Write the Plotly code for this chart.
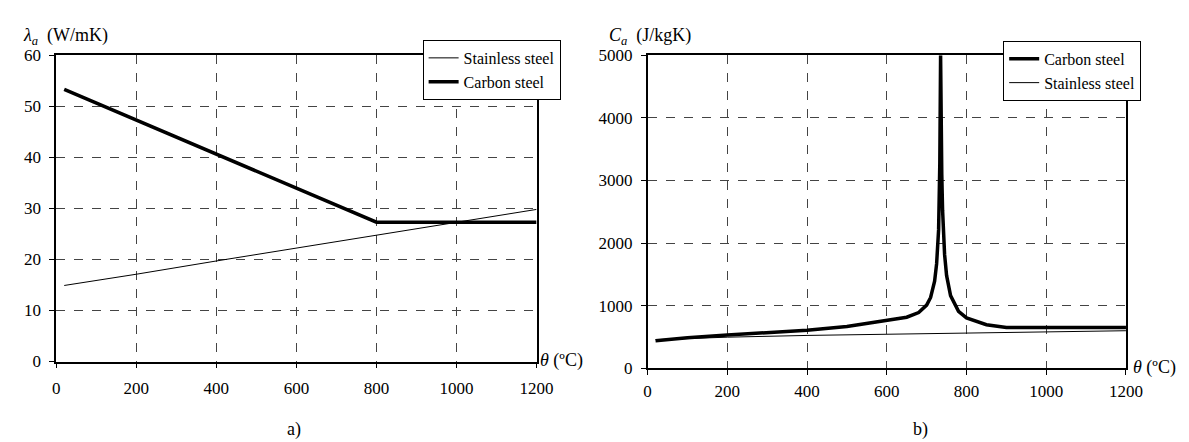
import plotly.graph_objects as go

# ---------------- data ----------------
# a) thermal conductivity
theta_cs_a = [20, 200, 400, 600, 800, 1200]
lam_cs = [53.3, 47.3, 40.7, 34.0, 27.3, 27.3]
theta_ss_a = [20, 200, 400, 600, 800, 1000, 1200]
lam_ss = [14.9, 17.1, 19.7, 22.2, 24.8, 27.3, 29.8]

# b) specific heat
theta_cs_b = [20, 100, 200, 300, 400, 500, 600, 650, 680, 700, 710, 720, 725, 730,
              733, 735, 738, 740, 745, 750, 760, 780, 800, 850, 900, 1200]
c_cs = [440, 488, 530, 565, 606, 667, 760, 815, 890, 1008, 1130, 1390, 1666, 2210,
        3266, 5000, 3090, 2525, 1818, 1483, 1160, 909, 803, 695, 650, 650]
theta_ss_b = [20, 200, 400, 600, 800, 1000, 1200]
c_ss = [456, 496, 524, 542, 556, 573, 599]

x_ticks = [0, 200, 400, 600, 800, 1000, 1200]
y_ticks_a = [0, 10, 20, 30, 40, 50, 60]
y_ticks_b = [0, 1000, 2000, 3000, 4000, 5000]

W, H = 1189, 442
FONT = "'Liberation Serif', 'Times New Roman', Times, 'DejaVu Serif', serif"

fig = go.Figure()
fig.add_trace(go.Scatter(x=theta_ss_a, y=lam_ss, mode="lines", name="Stainless steel",
                         line=dict(color="black", width=1), xaxis="x", yaxis="y", legend="legend"))
fig.add_trace(go.Scatter(x=theta_cs_a, y=lam_cs, mode="lines", name="Carbon steel",
                         line=dict(color="black", width=3.5), xaxis="x", yaxis="y", legend="legend"))
fig.add_trace(go.Scatter(x=theta_cs_b, y=c_cs, mode="lines", name="Carbon steel",
                         line=dict(color="black", width=3.5), xaxis="x2", yaxis="y2", legend="legend2"))
fig.add_trace(go.Scatter(x=theta_ss_b, y=c_ss, mode="lines", name="Stainless steel",
                         line=dict(color="black", width=1), xaxis="x2", yaxis="y2", legend="legend2"))


def px_x(p):
    return p / W


def px_y(p):
    return 1 - p / H


common = dict(showline=True, linecolor="black", linewidth=1.5, mirror=True,
              ticks="outside", ticklen=5, tickcolor="black", tickwidth=1,
              showgrid=True, gridcolor="#444", griddash="dash", gridwidth=1,
              zeroline=False, tickfont=dict(family=FONT, size=17, color="black"))

fig.update_layout(
    width=W, height=H, autosize=False,
    margin=dict(l=0, r=0, t=0, b=0),
    paper_bgcolor="white", plot_bgcolor="white",
    font=dict(family=FONT, size=16, color="black"),
    xaxis=dict(domain=[px_x(45), px_x(534)], range=[0, 1200], tickvals=x_ticks,
               anchor="y", ticklabelstandoff=5, **common),
    yaxis=dict(domain=[px_y(360), px_y(40)], range=[0, 60], tickvals=y_ticks_a,
               anchor="x", ticklabelstandoff=5, **common),
    xaxis2=dict(domain=[px_x(647), px_x(1134)], range=[0, 1200], tickvals=x_ticks,
                anchor="y2", ticklabelstandoff=2, **common),
    yaxis2=dict(domain=[px_y(367), px_y(40)], range=[0, 5000], tickvals=y_ticks_b,
                anchor="x2", ticklabelstandoff=5, **common),
    legend=dict(x=px_x(418), y=px_y(24), xanchor="left", yanchor="top",
                bgcolor="white", bordercolor="black", borderwidth=1,
                font=dict(family=FONT, size=16), itemwidth=30, tracegroupgap=0),
    legend2=dict(x=px_x(1009), y=px_y(25), xanchor="left", yanchor="top",
                 bgcolor="white", bordercolor="black", borderwidth=1,
                 font=dict(family=FONT, size=16), itemwidth=30, tracegroupgap=0),
    showlegend=True,
)

ann = [
    dict(x=px_x(9), y=px_y(20), text="<i>λ</i><sub><i>a</i></sub>  (W/mK)", xanchor="left"),
    dict(x=px_x(606), y=px_y(20), text="<i>C</i><sub><i>a</i></sub>  (J/kgK)", xanchor="left"),
    dict(x=px_x(535), y=px_y(359), text="<i>θ</i> (ºC)", xanchor="left"),
    dict(x=px_x(1139), y=px_y(366), text="<i>θ</i> (ºC)", xanchor="left"),
    dict(x=px_x(287), y=px_y(431), text="a)", xanchor="center"),
    dict(x=px_x(925), y=px_y(431), text="b)", xanchor="center"),
]
for a in ann:
    fig.add_annotation(xref="paper", yref="paper", yanchor="middle", showarrow=False,
                       font=dict(family=FONT, size=18, color="black"), **a)

fig.write_html("out.html")
